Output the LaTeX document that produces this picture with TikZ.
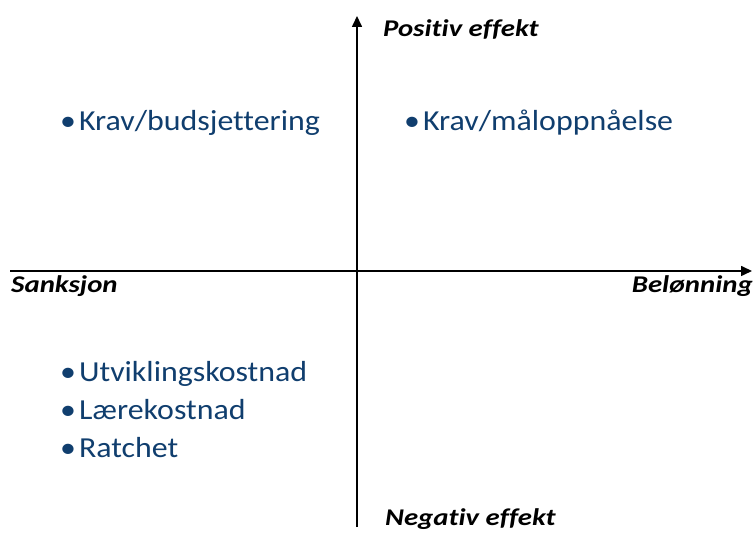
\documentclass[tikz,border=0pt]{standalone}
\usepackage{fontspec}
\setmainfont{Carlito}
\newfontfamily\itemfont[FakeStretch=1.1,Ligatures=CommonOff]{Carlito}
\newfontfamily\labfont[FakeStretch=1.2,Ligatures=CommonOff]{Carlito}
\usetikzlibrary{arrows.meta}
\definecolor{itemblue}{RGB}{16,62,110}
\tikzset{
  axis/.style={line width=1.6pt,-{Triangle[length=11pt,width=10pt]}},
  axlabel/.style={font=\labfont\fontsize{24}{28}\selectfont\bfseries\itshape,inner sep=0pt,anchor=base west},
  item/.style={font=\itemfont\fontsize{29}{34}\selectfont,text=itemblue,inner sep=0pt,anchor=base west}
}
\begin{document}
\begin{tikzpicture}[x=1pt,y=-1pt]
\useasboundingbox (0,0) rectangle (755,534);
\coordinate (vb) at (357,527);
\coordinate (vt) at (357,16);
\coordinate (hl) at (10,271);
\coordinate (hr) at (752,271);
\draw[axis] (vb) -- (vt);
\draw[axis] (hl) -- (hr);
\node[axlabel] (pos) at (383,37) {Positiv effekt};
\node[axlabel] (neg) at (385,525) {Negativ effekt};
\node[axlabel] (sank) at (11,293) {Sanksjon};
\node[axlabel,anchor=base east] (bel) at (753,293) {Belønning};
\node[item] (kb) at (60,131) {•\hspace{3pt}Krav/budsjettering};
\node[item] (km) at (404,131) {•\hspace{3pt}Krav/måloppnåelse};
\node[item] (ut) at (60,382) {•\hspace{3pt}Utviklingskostnad};
\node[item] (lk) at (60,419) {•\hspace{3pt}Lærekostnad};
\node[item] (ra) at (60,457) {•\hspace{3pt}Ratchet};
\end{tikzpicture}
\end{document}
